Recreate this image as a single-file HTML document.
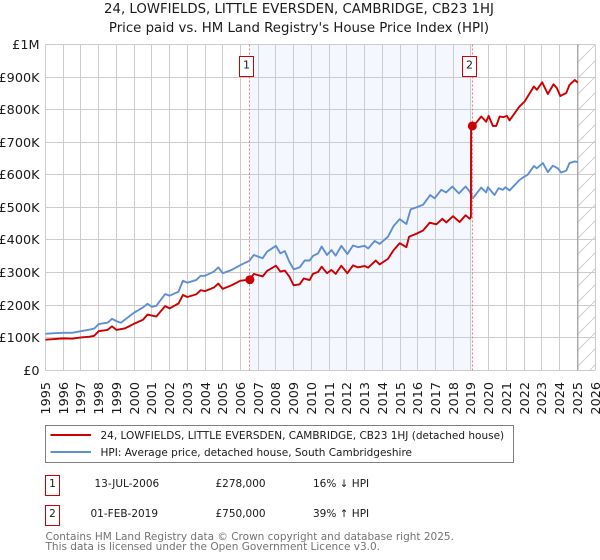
<!DOCTYPE html>
<html>
<head>
<meta charset="utf-8">
<style>
html,body{margin:0;padding:0;background:#fff;width:600px;height:560px;overflow:hidden}
svg{display:block;font-family:"DejaVu Sans","Liberation Sans",sans-serif;fill:#000}
</style>
</head>
<body>
<svg id="chart" width="600" height="560" viewBox="0 0 600 560" xmlns="http://www.w3.org/2000/svg">
<defs>
<pattern id="hatch" patternUnits="userSpaceOnUse" width="16" height="16">
<line x1="0" y1="16" x2="16" y2="0" stroke="#cfcfcf" stroke-width="1"/>
</pattern>
</defs>
<text x="299" y="13" font-size="13.3" text-anchor="middle" fill="#1a1a1a">24, LOWFIELDS, LITTLE EVERSDEN, CAMBRIDGE, CB23 1HJ</text>
<text x="299" y="32" font-size="13.3" text-anchor="middle" fill="#1a1a1a">Price paid vs. HM Land Registry's House Price Index (HPI)</text>
<g id="plot"></g>
<rect x="45.5" y="425.5" width="468" height="37" fill="#fff" stroke="#808080" stroke-width="1"/>
<line x1="50.5" y1="435" x2="91" y2="435" stroke="#cc0000" stroke-width="2"/>
<text x="100.5" y="439" font-size="10.5" fill="#1a1a1a">24, LOWFIELDS, LITTLE EVERSDEN, CAMBRIDGE, CB23 1HJ (detached house)</text>
<line x1="50.5" y1="452" x2="91" y2="452" stroke="#5f8fd3" stroke-width="2"/>
<text x="100.5" y="456" font-size="10.5" fill="#1a1a1a">HPI: Average price, detached house, South Cambridgeshire</text>

<rect x="45.5" y="475.5" width="14" height="20" fill="#fff" stroke="#cc0000" stroke-width="1"/>
<text x="52.5" y="487" font-size="10.5" text-anchor="middle" fill="#1a1a1a">1</text>
<text x="94.5" y="487" font-size="10.5" fill="#1a1a1a">13-JUL-2006</text>
<text x="215.5" y="487" font-size="10.5" fill="#1a1a1a">£278,000</text>
<text x="313" y="487" font-size="10.5" fill="#1a1a1a">16% ↓ HPI</text>

<rect x="45.5" y="505.5" width="14" height="20" fill="#fff" stroke="#cc0000" stroke-width="1"/>
<text x="52.5" y="517" font-size="10.5" text-anchor="middle" fill="#1a1a1a">2</text>
<text x="90.5" y="517" font-size="10.5" fill="#1a1a1a">01-FEB-2019</text>
<text x="215.5" y="517" font-size="10.5" fill="#1a1a1a">£750,000</text>
<text x="313" y="517" font-size="10.5" fill="#1a1a1a">39% ↑ HPI</text>

<text x="45.5" y="540" font-size="10.5" fill="#737373">Contains HM Land Registry data © Crown copyright and database right 2025.</text>
<text x="45.5" y="550" font-size="10.5" fill="#737373">This data is licensed under the Open Government Licence v3.0.</text>
</svg>
<script>
var yearTicks = [1995,1996,1997,1998,1999,2000,2001,2002,2003,2004,2005,2006,2007,2008,2009,2010,2011,2012,2013,2014,2015,2016,2017,2018,2019,2020,2021,2022,2023,2024,2025,2026];
var valueTicks = [0,100000,200000,300000,400000,500000,600000,700000,800000,900000,1000000];
var valueTickLabels = ["£0","£100K","£200K","£300K","£400K","£500K","£600K","£700K","£800K","£900K","£1M"];

var priceYears = [1995,1995.5,1996,1996.5,1997,1997.5,1997.75,1998,1998.5,1998.75,1999,1999.5,2000,2000.5,2000.75,2001.25,2001.75,2002,2002.5,2002.75,2003,2003.5,2003.75,2004,2004.5,2004.75,2005,2005.5,2006,2006.53,2006.75,2007.25,2007.5,2008,2008.25,2008.5,2008.75,2009,2009.34,2009.57,2009.9,2010.09,2010.38,2010.58,2010.88,2011.13,2011.37,2011.69,2012.03,2012.35,2012.63,2013.01,2013.2,2013.63,2013.85,2014.32,2014.64,2014.98,2015.36,2015.51,2015.92,2016.3,2016.67,2017.05,2017.39,2017.61,2017.99,2018.36,2018.7,2018.93,2019,2019.01,2019.08,2019.3,2019.58,2019.86,2020,2020.24,2020.43,2020.62,2020.84,2021.03,2021.18,2021.74,2022.03,2022.2,2022.55,2022.72,2023.02,2023.34,2023.66,2023.85,2024.04,2024.38,2024.56,2024.86,2025.03];
var priceValues = [94,96,98,97,101,103,106,120,124,135,124,129,143,155,171,165,197,190,205,231,225,233,246,243,254,266,250,261,275,278,296,288,305,321,303,306,288,261,264,282,277,296,302,318,298,308,296,321,298,322,316,320,315,337,325,342,369,390,378,410,419,429,453,448,465,454,473,455,476,465,470,745,751,760,779,763,781,750,750,779,777,781,767,810,825,840,871,861,884,848,878,866,842,851,876,891,883];

var hpiYears = [1995,1995.5,1996,1996.5,1997,1997.5,1997.75,1998,1998.5,1998.75,1999,1999.25,2000,2000.5,2000.75,2001,2001.25,2001.5,2001.75,2002,2002.5,2002.75,2003,2003.5,2003.75,2004,2004.5,2004.75,2005,2005.5,2006,2006.5,2006.75,2007.25,2007.5,2008,2008.25,2008.5,2008.75,2009,2009.34,2009.62,2009.9,2010.09,2010.38,2010.58,2010.88,2011.13,2011.37,2011.69,2012.03,2012.35,2012.63,2013.01,2013.2,2013.57,2013.85,2014.32,2014.64,2014.98,2015.36,2015.6,2015.92,2016.3,2016.7,2016.95,2017.33,2017.6,2017.95,2018.32,2018.7,2018.93,2019.11,2019.58,2019.86,2019.96,2020.33,2020.56,2020.8,2020.95,2021.18,2021.74,2022.03,2022.2,2022.55,2022.72,2023.06,2023.34,2023.62,2023.9,2024.09,2024.38,2024.56,2024.86,2025.03];
var hpiValues = [112,114,115,115,120,125,128,142,146,158,151,146,177,193,204,195,198,216,234,229,241,275,269,277,290,290,303,316,298,308,323,336,354,344,364,382,359,366,334,310,316,337,337,351,359,380,354,369,352,382,357,383,378,382,374,397,388,410,443,464,449,494,500,508,538,528,554,546,564,543,564,549,528,561,546,562,538,559,554,562,552,584,595,600,627,620,636,608,628,620,607,613,636,641,639];

var saleYears = [2006.53,2019.08];
var saleValues = [278,750];
var saleNumbers = ["1","2"];

var NS = "http://www.w3.org/2000/svg";
var plot = document.getElementById("plot");
var L = 45.5, R = 595, T = 44.5, B = 370.3;
function xAt(y){ return L + (y - 1995) * (R - L) / 31; }
function yAt(k){ return B - k * (B - T) / 1000; }
function mk(tag, attrs, parent){
  var e = document.createElementNS(NS, tag);
  for (var k in attrs) e.setAttribute(k, attrs[k]);
  (parent || plot).appendChild(e);
  return e;
}
function pathFrom(xs, vs){
  var d = "";
  for (var i = 0; i < xs.length; i++) d += (i ? "L" : "M") + xAt(xs[i]).toFixed(2) + " " + yAt(vs[i]).toFixed(2);
  return d;
}

var shade = mk("rect", {x:xAt(saleYears[0]), y:T, width:xAt(saleYears[1])-xAt(saleYears[0]), height:B-T, fill:"#f5f7ff"});



var fc = mk("rect", {x:xAt(2025.03), y:T, width:R-xAt(2025.03), height:B-T, fill:"url(#hatch)"});



yearTicks.forEach(function(y){
  var x = Math.round(xAt(y) - 0.5) + 0.5;
  var g = mk("line", {x1:x, x2:x, y1:T, y2:B, stroke:"#cccccc", "stroke-width":1});
  
  
  var t = mk("text", {transform:"translate(" + (x + 4.5) + ",382) rotate(-90)", "font-size":"12.8", "text-anchor":"end", fill:"#1a1a1a"});
  t.textContent = y;
  
  
});
valueTicks.forEach(function(v, i){
  var y = Math.round(yAt(v / 1000) - 0.5) + 0.5;
  var g = mk("line", {x1:L, x2:R, y1:y, y2:y, stroke:"#cccccc", "stroke-width":1});
  
  
  var t = mk("text", {x:39.5, y:y + 4.5, "font-size":"12.8", "text-anchor":"end", fill:"#1a1a1a"});
  t.textContent = valueTickLabels[i];
  
  
});

var endLine = mk("line", {x1:xAt(2025.03), x2:xAt(2025.03), y1:T, y2:B, stroke:"#a0a0a0", "stroke-width":1.2});



var hpi = mk("path", {d:pathFrom(hpiYears, hpiValues), fill:"none", stroke:"#5f8fd3", "stroke-width":1.9, "stroke-linejoin":"round"});



var price = mk("path", {d:pathFrom(priceYears, priceValues), fill:"none", stroke:"#cc0000", "stroke-width":1.9, "stroke-linejoin":"round"});



saleYears.forEach(function(y, i){
  var x = Math.round(xAt(y) - 0.5) + 0.5;
  var d = mk("line", {x1:x, x2:x, y1:T, y2:B, stroke:"#f07a85", "stroke-width":1, "stroke-dasharray":"2 2"});
  
  
  var c = mk("circle", {cx:xAt(y), cy:yAt(saleValues[i]), r:4.5, fill:"#cc0000"});
  
  
  var b = mk("rect", {x:x - 10, y:56.5, width:14, height:20, fill:"#fff", stroke:"#cc0000", "stroke-width":1});
  
  
  var t = mk("text", {x:x - 3, y:68.5, "font-size":"11", "text-anchor":"middle", fill:"#1a1a1a"});
  t.textContent = saleNumbers[i];
  
  
});
</script>
</body>
</html>
